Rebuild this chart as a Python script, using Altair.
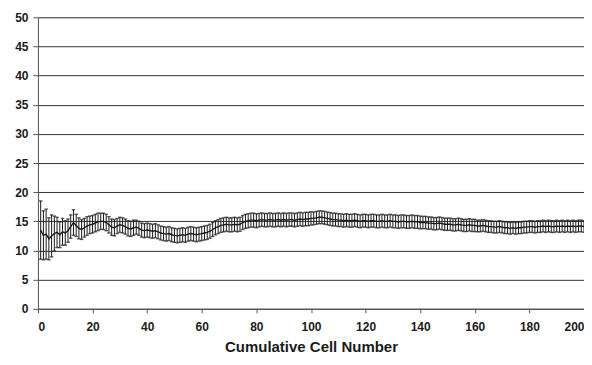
import altair as alt
import pandas as pd

cells = list(range(1, 201))

means = [
    13.5, 12.6, 12.8, 12.0, 12.5, 12.9, 13.1, 12.7, 13.2, 13.0,
    13.4, 14.1, 14.8, 14.3, 13.8, 13.6, 13.9, 14.2, 14.4, 14.5,
    14.7, 14.9, 15.0, 15.0, 14.8, 14.4, 14.0, 13.9, 14.2, 14.4,
    14.3, 14.1, 13.8, 13.7, 13.9, 14.0, 13.8, 13.5, 13.4, 13.5,
    13.4, 13.3, 13.4, 13.2, 13.0, 12.9, 12.8, 12.9, 12.7, 12.6,
    12.5, 12.6, 12.7, 12.6, 12.8, 12.9, 12.8, 12.7, 12.8, 12.9,
    13.0, 13.1, 13.3, 13.6, 13.9, 14.1, 14.3, 14.4, 14.5, 14.4,
    14.4, 14.5, 14.4, 14.5, 14.8, 15.0, 15.1, 15.2, 15.2, 15.1,
    15.2, 15.3, 15.2, 15.2, 15.3, 15.2, 15.2, 15.3, 15.2, 15.3,
    15.2, 15.3, 15.3, 15.2, 15.3, 15.4, 15.3, 15.4, 15.4, 15.5,
    15.5, 15.6, 15.7, 15.7, 15.6, 15.5, 15.4, 15.3, 15.3, 15.2,
    15.2, 15.1, 15.2, 15.1, 15.1, 15.2, 15.1, 15.0, 15.1, 15.1,
    15.0, 15.1, 15.1, 15.0, 15.0, 15.1, 15.0, 15.0, 15.1, 15.0,
    15.0, 14.9, 15.0, 15.0, 14.9, 14.9, 15.0, 14.9, 14.9, 14.8,
    14.8, 14.8, 14.7, 14.7, 14.6, 14.6, 14.7, 14.6, 14.5, 14.5,
    14.5, 14.4, 14.4, 14.5, 14.4, 14.3, 14.3, 14.4, 14.3, 14.3,
    14.2, 14.2, 14.3, 14.2, 14.1, 14.1, 14.0, 14.0, 14.1, 14.0,
    13.9, 13.9, 13.8, 13.9, 13.8, 13.9, 13.9, 14.0, 14.0, 14.1,
    14.1, 14.0, 14.1, 14.1, 14.2, 14.1, 14.2, 14.1, 14.1, 14.2,
    14.1, 14.2, 14.1, 14.2, 14.1, 14.2, 14.1, 14.2, 14.2, 14.1,
]

errors = [
    5.0, 4.2, 4.3, 3.6, 3.6, 3.0, 2.6, 2.2, 2.3, 2.1,
    2.0, 2.0, 2.2, 1.9, 1.8, 1.7, 1.6, 1.6, 1.5, 1.5,
    1.5, 1.5, 1.4, 1.4, 1.4, 1.4, 1.4, 1.4, 1.3, 1.3,
    1.3, 1.3, 1.3, 1.3, 1.3, 1.2, 1.2, 1.2, 1.2, 1.2,
    1.2, 1.2, 1.2, 1.2, 1.2, 1.2, 1.2, 1.2, 1.2, 1.2,
    1.2, 1.2, 1.2, 1.2, 1.2, 1.2, 1.2, 1.2, 1.2, 1.2,
    1.2, 1.2, 1.2, 1.2, 1.2, 1.2, 1.2, 1.2, 1.2, 1.2,
    1.2, 1.2, 1.2, 1.2, 1.2, 1.2, 1.2, 1.2, 1.2, 1.2,
    1.15, 1.15, 1.15, 1.15, 1.15, 1.15, 1.15, 1.15, 1.15, 1.15,
    1.15, 1.15, 1.15, 1.15, 1.15, 1.15, 1.15, 1.15, 1.15, 1.15,
    1.1, 1.1, 1.1, 1.1, 1.1, 1.1, 1.1, 1.1, 1.1, 1.1,
    1.1, 1.1, 1.1, 1.1, 1.1, 1.1, 1.1, 1.1, 1.1, 1.1,
    1.1, 1.1, 1.1, 1.1, 1.1, 1.1, 1.1, 1.1, 1.1, 1.1,
    1.1, 1.1, 1.1, 1.1, 1.1, 1.1, 1.1, 1.1, 1.1, 1.1,
    1.05, 1.05, 1.05, 1.05, 1.05, 1.05, 1.05, 1.05, 1.05, 1.05,
    1.05, 1.05, 1.05, 1.05, 1.05, 1.05, 1.05, 1.05, 1.05, 1.05,
    1.0, 1.0, 1.0, 1.0, 1.0, 1.0, 1.0, 1.0, 1.0, 1.0,
    1.0, 1.0, 1.0, 1.0, 1.0, 1.0, 1.0, 1.0, 1.0, 1.0,
    1.0, 1.0, 1.0, 1.0, 1.0, 1.0, 1.0, 1.0, 1.0, 1.0,
    1.0, 1.0, 1.0, 1.0, 1.0, 1.0, 1.0, 1.0, 1.0, 1.0,
]

x_ticks = list(range(0, 201, 20))
y_ticks = list(range(0, 51, 5))

df = pd.DataFrame({"cell": cells, "mean": means, "err": errors})
df["lo"] = df["mean"] - df["err"]
df["hi"] = df["mean"] + df["err"]

FONT = "Liberation Sans"
INK = "#1a1a1a"

x_scale = alt.Scale(domain=[0, 200], nice=False, padding=0)
y_scale = alt.Scale(domain=[0, 50], nice=False, padding=0)

x_axis = alt.Axis(values=x_ticks, title="Cumulative Cell Number",
                  grid=False, labelFontWeight="bold", labelFontSize=12,
                  labelColor=INK, titleFontSize=15, titleFontWeight="bold",
                  titleColor=INK, domainColor="#555", tickColor="#555",
                  tickSize=4, labelPadding=9, titlePadding=7, labelFont=FONT,
                  titleFont=FONT)
y_axis = alt.Axis(values=y_ticks, title=None, grid=True,
                  gridColor="#333", gridWidth=1, labelFontWeight="bold",
                  labelFontSize=12, labelColor=INK, domainColor="#555",
                  tickColor="#555", tickSize=5, labelPadding=5, labelFont=FONT)

base = alt.Chart(df)

bars = base.mark_rule(color=INK, strokeWidth=1).encode(
    x=alt.X("cell:Q", scale=x_scale, axis=x_axis),
    y=alt.Y("lo:Q", scale=y_scale, axis=y_axis),
    y2="hi:Q")
caps_hi = base.mark_tick(color=INK, orient="horizontal", size=3.5, thickness=1.4).encode(
    x=alt.X("cell:Q", scale=x_scale, axis=x_axis),
    y=alt.Y("hi:Q", scale=y_scale, axis=y_axis))
caps_lo = base.mark_tick(color=INK, orient="horizontal", size=3.5, thickness=1.4).encode(
    x=alt.X("cell:Q", scale=x_scale, axis=x_axis),
    y=alt.Y("lo:Q", scale=y_scale, axis=y_axis))
line = base.mark_line(color=INK, strokeWidth=1.4).encode(
    x=alt.X("cell:Q", scale=x_scale, axis=x_axis),
    y=alt.Y("mean:Q", scale=y_scale, axis=y_axis))

chart = alt.layer(bars, caps_hi, caps_lo, line).properties(
    width=547, height=292, autosize="none",
    padding={"left": 30, "top": 9, "right": 0, "bottom": 48},
).configure_view(stroke=None).configure(background="white")

chart.save("out.html", embed_options={"renderer": "svg", "actions": False})
